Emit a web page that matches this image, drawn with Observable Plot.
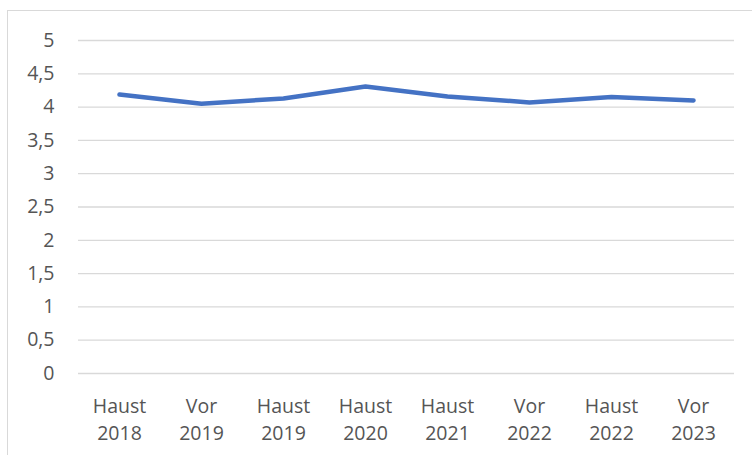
<!DOCTYPE html>
<html>
<head>
<meta charset="utf-8">
<script src="https://cdn.jsdelivr.net/npm/d3@7"></script>
<script src="https://cdn.jsdelivr.net/npm/@observablehq/plot@0.6"></script>
<style>
  html, body { margin: 0; padding: 0; background: #fff; }
  #wrap { position: relative; width: 752px; height: 455px; overflow: hidden; }
  #border { position: absolute; left: 7px; top: 10px; width: 800px; height: 500px; border: 1.3px solid #d9d9d9; box-sizing: border-box; }
  #chart { position: absolute; left: 0; top: 0; }
  #chart svg { background: transparent; }
</style>
</head>
<body>
<div id="wrap"><div id="border"></div><div id="chart"></div></div>
<script>
const categories = ["Haust 2018", "Vor 2019", "Haust 2019", "Haust 2020", "Haust 2021", "Vor 2022", "Haust 2022", "Vor 2023"];
const values = [4.19, 4.05, 4.13, 4.31, 4.16, 4.07, 4.15, 4.10];
const yTicks = [0, 0.5, 1, 1.5, 2, 2.5, 3, 3.5, 4, 4.5, 5];

const data = categories.map((c, i) => ({category: c, value: values[i]}));

const chart = Plot.plot({
  width: 752,
  height: 455,
  marginLeft: 78,
  marginRight: 18,
  marginTop: 40,
  marginBottom: 82,
  style: {background: "transparent", fontFamily: "'Open Sans', sans-serif", fontSize: "19.5px", color: "#555555"},
  x: {type: "point", domain: categories, padding: 0.5},
  y: {domain: [0, 5]},
  marks: [
    Plot.gridY(yTicks, {stroke: "#d9d9d9", strokeOpacity: 1, strokeWidth: 1.3}),
    Plot.axisY(yTicks, {
      tickSize: 0, tickPadding: 24, fontSize: 19.5, fill: "#555555",
      tickFormat: d => String(d).replace(".", ","), label: null
    }),
    Plot.axisX({
      tickSize: 0, tickPadding: 20, fontSize: 19.5, fill: "#555555", lineHeight: 1.38,
      tickFormat: d => d.replace(" ", "\n"), label: null
    }),
    Plot.line(data, {x: "category", y: "value", stroke: "#4472C4", strokeWidth: 4.5, strokeLinecap: "round", strokeLinejoin: "round"})
  ]
});
document.getElementById("chart").appendChild(chart);
</script>
</body>
</html>
